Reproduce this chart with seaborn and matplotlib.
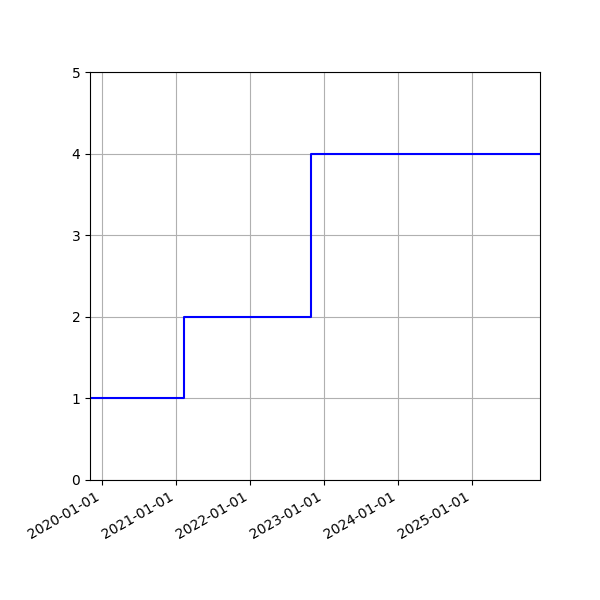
import matplotlib
matplotlib.use("Agg")
import matplotlib.pyplot as plt
import matplotlib.dates as mdates
import seaborn as sns
import pandas as pd

dates = ["2019-11-03", "2021-02-07", "2022-10-30", "2025-12-03"]
values = [1, 2, 4, 4]

df = pd.DataFrame({"date": pd.to_datetime(dates), "value": values})

fig, ax = plt.subplots(figsize=(6, 6), dpi=100)
sns.lineplot(data=df, x="date", y="value", drawstyle="steps-post", color="blue", linewidth=1.5, ax=ax)
ax.set_xlim(df["date"].iloc[0], df["date"].iloc[-1])
ax.set_ylim(0, 5)
ax.set_yticks(range(0, 6))
ax.xaxis.set_major_locator(mdates.YearLocator())
ax.xaxis.set_major_formatter(mdates.DateFormatter("%Y-%m-%d"))
ax.grid(True, color="#b0b0b0", linewidth=0.8)
ax.set_xlabel("")
ax.set_ylabel("")
fig.autofmt_xdate()
fig.subplots_adjust(left=0.15, right=0.9, top=0.88, bottom=0.2)
fig.savefig("out.png", dpi=100)
